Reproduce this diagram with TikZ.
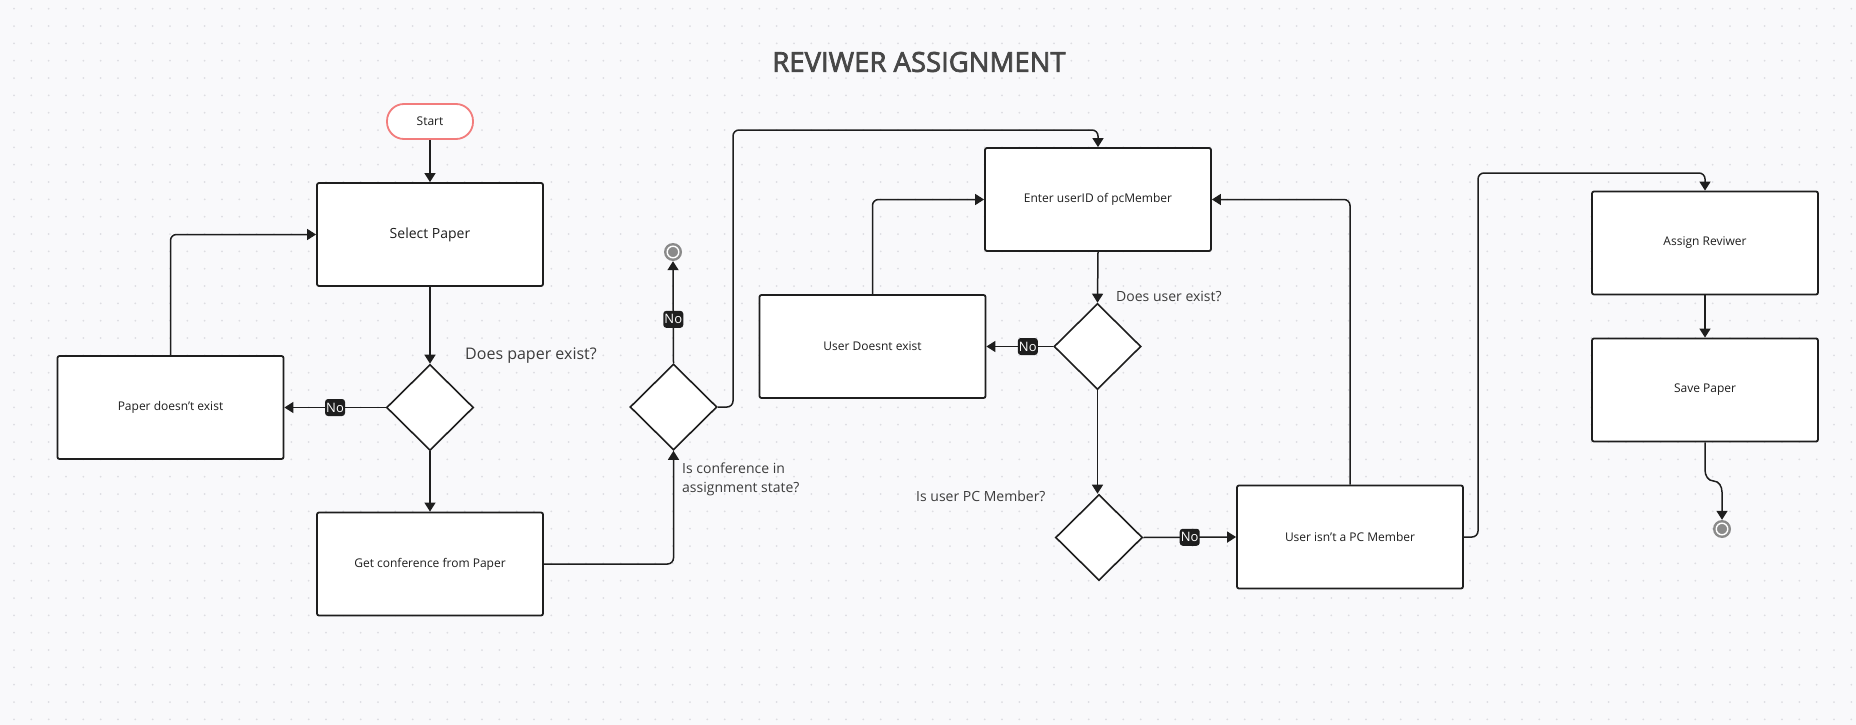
\documentclass[tikz,border=0pt]{standalone}
\usepackage{fontspec}
\setmainfont{Open Sans}
\newfontfamily\titlefont{Open Sans}[FakeBold=2.5]
\usetikzlibrary{shapes.geometric,arrows.meta}
\definecolor{bg}{HTML}{F9F9FB}
\definecolor{dotc}{HTML}{DDDDE2}
\definecolor{ink}{HTML}{1E1E1E}
\definecolor{lbl}{HTML}{3C3C3C}
\definecolor{titlec}{HTML}{474747}
\definecolor{startc}{HTML}{F27C7C}
\definecolor{endc}{HTML}{8A8A8A}
\begin{document}
\begin{tikzpicture}[x=1pt,y=-1pt,
  box/.style={draw=ink,line width=1.8pt,fill=white,rounded corners=2pt,minimum width=226pt,minimum height=103pt,inner sep=0pt,font=\fontsize{12}{14}\selectfont,text=ink},
  dec/.style={diamond,draw=ink,line width=1.6pt,fill=white,minimum width=87pt,minimum height=86pt,inner sep=0pt},
  conn/.style={draw=ink,line width=1.5pt,rounded corners=6pt,-{Triangle[width=11pt,length=9pt]}},
  nolbl/.style={fill=ink,text=white,rounded corners=3pt,inner sep=0pt,minimum width=20pt,minimum height=17pt,font=\fontsize{13}{13}\selectfont},
  qlbl/.style={text=lbl,font=\fontsize{14}{19}\selectfont,anchor=west,inner sep=0pt},
  endpt/.style={circle,fill=endc,minimum size=18pt,inner sep=0pt}
]
\fill[bg] (0,0) rectangle (1856,725);
\useasboundingbox (0,0) rectangle (1856,725);
\foreach \r in {0,...,41}{
  \draw[dotc,line width=2pt,line cap=round,dash pattern=on 0pt off 17.333pt] (14,{8.7+17.333*\r}) -- (1856,{8.7+17.333*\r});
}
% title
\node[text=titlec,font=\titlefont\fontsize{27.5}{30}\selectfont] (title) at (919,62) {REVIWER ASSIGNMENT};
% nodes
\node[draw=startc,line width=1.8pt,fill=white,rounded corners=17pt,minimum width=86pt,minimum height=35pt,inner sep=0pt,font=\fontsize{12}{14}\selectfont,text=ink] (start) at (430,121.5) {Start};
\node[box,font=\fontsize{14}{16}\selectfont] (select) at (430,234.5) {Select Paper};
\node[box] (pnot) at (170.5,407.5) {Paper doesn’t exist};
\node[dec] (d1) at (430,407.5) {};
\node[box] (getconf) at (430,564) {Get conference from Paper};
\node[dec] (d2) at (673.5,407) {};
\node[endpt] (end1) at (673,252) {};
\draw[white,line width=1.4pt] (end1) circle (5.8pt);
\node[box] (enter) at (1098,199.5) {Enter userID of pcMember};
\node[box] (udne) at (872.5,346.5) {User Doesnt exist};
\node[dec] (d3) at (1097.5,346.5) {};
\node[dec] (d4) at (1099,537.5) {};
\node[box] (uinpc) at (1350,537) {User isn’t a PC Member};
\node[box] (assign) at (1705,243) {Assign Reviwer};
\node[box] (save) at (1705,390) {Save Paper};
\node[endpt] (end2) at (1722,529) {};
\draw[white,line width=1.4pt] (end2) circle (5.8pt);
% labels
\node[qlbl,font=\fontsize{16}{19}\selectfont] (q1) at (465,356) {Does paper exist?};
\node[qlbl,align=left] (q2) at (682,479.5) {Is conference in\\assignment state?};
\node[qlbl] (q3) at (1116,296) {Does user exist?};
\node[qlbl] (q4) at (916,496) {Is user PC Member?};
% helper coordinates
\coordinate (c1) at (733,130);
\coordinate (c2) at (1478,173);
\coordinate (s0) at (1705,470);
\coordinate (s1) at (1713.5,481);
\coordinate (s2) at (1722,492);
% connectors
\draw[conn] (start.south) -- (select.north);
\draw[conn] (select.south) -- (d1.north);
\draw[conn] (d1.west) -- node[nolbl]{No} (pnot.east);
\draw[conn] (pnot.north) |- (select.west);
\draw[conn] (d1.south) -- (getconf.north);
\draw[conn] (getconf.east) -| (d2.south);
\draw[conn] (d2.north) -- node[nolbl,pos=0.43]{No} (end1.south);
\draw[conn] (d2.east) -| (c1) -| (enter.north);
\draw[conn] (enter.south) -- (d3.north);
\draw[conn] (d3.west) -- node[nolbl,pos=0.38]{No} (d3.west -| udne.east);
\draw[conn] (udne.north) |- (enter.west);
\draw[conn] (d3.south) -- (d3.south |- d4.north);
\draw[conn] (d4.east) -- node[nolbl]{No} (uinpc.west);
\draw[conn] (uinpc.north) |- (enter.east);
\draw[conn] (uinpc.east) -| (c2) -| (assign.north);
\draw[conn] (assign.south) -- (save.north);
\draw[conn,rounded corners=0pt] (save.south) -- (s0) to[out=-90,in=180] (s1) to[out=0,in=90] (s2) -- (end2.north);
\end{tikzpicture}
\end{document}
